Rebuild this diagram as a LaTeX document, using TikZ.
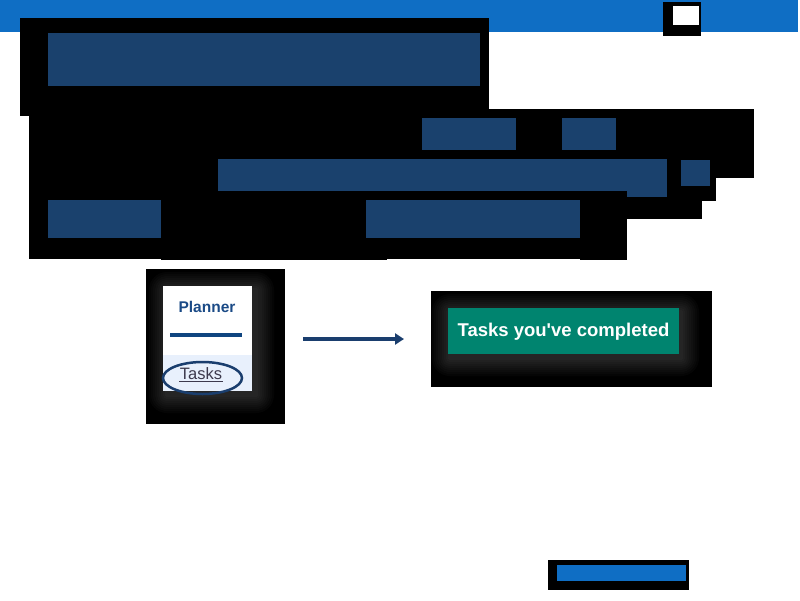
\documentclass[tikz,border=0pt]{standalone}
\usepackage{fontspec}
\setmainfont{Liberation Sans}
\newfontfamily\rawfont{Liberation Sans}
\usetikzlibrary{arrows.meta}
\definecolor{topblue}{HTML}{0F6EC4}
\definecolor{redblue}{HTML}{1A416D}
\definecolor{plannerblue}{HTML}{1A4A86}
\definecolor{linkblue}{HTML}{0F4580}
\definecolor{lightpanel}{HTML}{E8F0FC}
\definecolor{tealgreen}{HTML}{00846F}
\definecolor{arrowblue}{HTML}{1A3E6E}
\definecolor{taskgray}{HTML}{3D3A4D}
\tikzset{
  blackbox/.style={fill=black, draw=none},
  redact/.style={fill=redblue, draw=none},
  glow/.style={fill=white, opacity=0.02},
}
\begin{document}
\begin{tikzpicture}[x=1pt,y=-1pt]
\useasboundingbox (0,0) rectangle (800,600);
\fill[white] (0,0) rectangle (800,600);
% top bar
\fill[topblue] (0,0) rectangle (798,32);
\fill[blackbox] (663,2) rectangle (701,36);
\fill[white] (673,6) rectangle (699,25);
% redacted header block
\fill[blackbox] (20,18) rectangle (489,116);
\fill[redact] (48,33) rectangle (480,86);
% redacted paragraph block
\fill[blackbox] (29,109) rectangle (754,178);
\fill[blackbox] (29,178) rectangle (716,201);
\fill[blackbox] (29,201) rectangle (702,219);
\fill[blackbox] (29,219) rectangle (627,259);
\fill[blackbox] (161,258) rectangle (387,260);
\fill[blackbox] (580,258) rectangle (627,260);
\fill[redact] (422,118) rectangle (516,150);
\fill[redact] (562,118) rectangle (616,150);
\fill[redact] (218,159) rectangle (667,191);
\fill[redact] (627,190) rectangle (667,197);
\fill[redact] (681,160) rectangle (710,186);
\fill[redact] (48,200) rectangle (161,238);
\fill[redact] (366,200) rectangle (580,238);
% planner screenshot
\node[blackbox, minimum width=139pt, minimum height=155pt, inner sep=0pt, anchor=north west] (shotA) at (146,269) {};
\foreach \r in {2,4,...,18}
  \fill[glow, rounded corners=\r] (167-\r,290-\r) rectangle (256+\r,395+\r);
\fill[white] (163,286) rectangle (252,391);
\fill[lightpanel] (163,355) rectangle (252,391);
\node[font=\bfseries\fontsize{15.5}{18}\selectfont, text=plannerblue, inner sep=0pt] (planner) at (207,307) {Planner};
\fill[linkblue] (170,333) rectangle (242,337);
\node[font=\fontsize{16.5}{18}\selectfont, text=taskgray, inner sep=0pt] (tasks) at (201,373.5) {Tasks};
\draw[taskgray, line width=1.4pt] (179,381.5) -- (223,381.5);
\draw[arrowblue, line width=2.5pt] (202.5,378) ellipse [x radius=39.5, y radius=16];
% completed screenshot
\node[blackbox, minimum width=281pt, minimum height=96pt, inner sep=0pt, anchor=north west] (shotB) at (431,291) {};
\foreach \r in {2,4,...,18}
  \fill[glow, rounded corners=\r] (450-\r,312-\r) rectangle (681+\r,358+\r);
\node[fill=tealgreen, minimum width=231pt, minimum height=46pt, inner sep=0pt, anchor=north west] (green) at (448,308) {};
\node[font=\rawfont\bfseries\fontsize{18.5}{20}\selectfont, text=white, inner sep=0pt] (completed) at (563.5,331.5) {Tasks you've completed};
% arrow
\coordinate (arrS) at (303,339);
\coordinate (arrE) at (404,339);
\draw[arrowblue, line width=3.6pt, -{Triangle[length=9pt,width=11pt]}] (arrS) -- (arrE);
% bottom button
\node[blackbox, minimum width=141pt, minimum height=30pt, inner sep=0pt, anchor=north west] (btnbox) at (548,560) {};
\fill[topblue] (557,565) rectangle (686,581);
\end{tikzpicture}
\end{document}
